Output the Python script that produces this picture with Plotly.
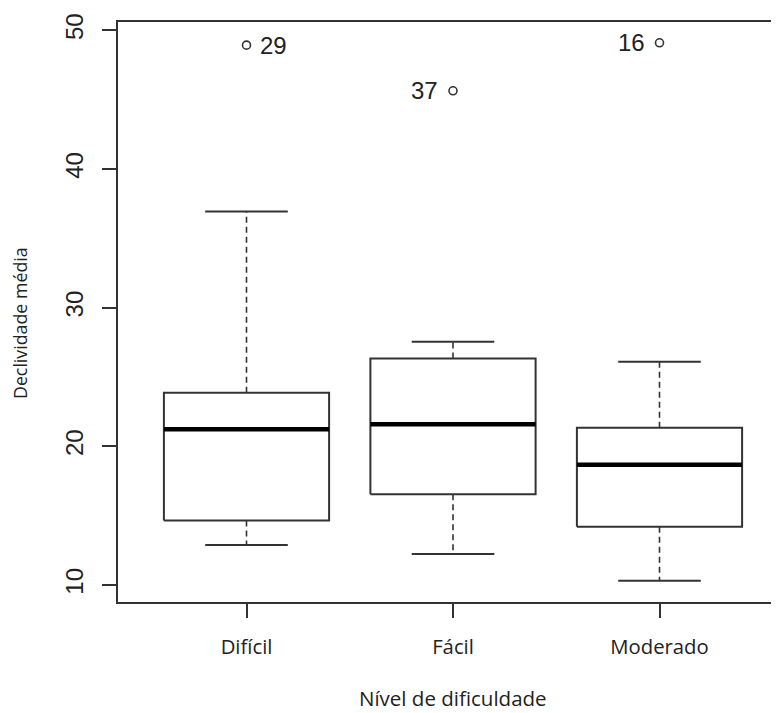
import plotly.graph_objects as go

# ---- data ----
categories = ["Difícil", "Fácil", "Moderado"]
lower_whisker = [12.88, 12.24, 10.31]
q1 = [14.64, 16.54, 14.20]
median = [21.23, 21.59, 18.67]
q3 = [23.86, 26.34, 21.34]
upper_whisker = [36.93, 27.54, 26.10]
outlier_values = [48.93, 45.64, 49.10]
outlier_labels = ["29", "37", "16"]
outlier_label_side = ["right", "left", "left"]
y_tick_values = [10, 20, 30, 40, 50]

# ---- styling constants ----
BOX_HALF = 0.4
CAP_HALF = 0.2
LINE_COL = "#333333"
TEXT_COL = "#222222"
LABEL_FONT = "Open Sans"
NUM_FONT = "Liberation Sans, Arial"

positions = list(range(1, len(categories) + 1))

box_x, box_y = [], []
med_x, med_y = [], []
wh_x, wh_y = [], []
cap_x, cap_y = [], []
for p, lo, a, m, b, hi in zip(positions, lower_whisker, q1, median, q3, upper_whisker):
    box_x += [p - BOX_HALF, p + BOX_HALF, p + BOX_HALF, p - BOX_HALF, p - BOX_HALF, None]
    box_y += [a, a, b, b, a, None]
    med_x += [p - BOX_HALF, p + BOX_HALF, None]
    med_y += [m, m, None]
    wh_x += [p, p, None, p, p, None]
    wh_y += [b, hi, None, a, lo, None]
    cap_x += [p - CAP_HALF, p + CAP_HALF, None, p - CAP_HALF, p + CAP_HALF, None]
    cap_y += [hi, hi, None, lo, lo, None]

fig = go.Figure()
fig.add_trace(go.Scatter(x=wh_x, y=wh_y, mode="lines",
                         line=dict(color=LINE_COL, width=1.6, dash="6px,4px"),
                         hoverinfo="skip", showlegend=False))
fig.add_trace(go.Scatter(x=cap_x, y=cap_y, mode="lines",
                         line=dict(color=LINE_COL, width=2),
                         hoverinfo="skip", showlegend=False))
fig.add_trace(go.Scatter(x=box_x, y=box_y, mode="lines", fill="toself",
                         fillcolor="white",
                         line=dict(color=LINE_COL, width=2),
                         hoverinfo="skip", showlegend=False))
fig.add_trace(go.Scatter(x=med_x, y=med_y, mode="lines",
                         line=dict(color="black", width=4.5),
                         hoverinfo="skip", showlegend=False))
fig.add_trace(go.Scatter(x=positions, y=outlier_values, mode="markers",
                         marker=dict(symbol="circle-open", size=8, color=LINE_COL,
                                     line=dict(color=LINE_COL, width=1.6)),
                         hoverinfo="skip", showlegend=False))

annotations = []
for p, v, lab, side in zip(positions, outlier_values, outlier_labels, outlier_label_side):
    annotations.append(dict(
        x=p, y=v, xref="x", yref="y", text=lab, showarrow=False,
        xanchor="left" if side == "right" else "right",
        xshift=11 if side == "right" else -13,
        font=dict(family=NUM_FONT, size=24, color=TEXT_COL)))

# axis titles
annotations.append(dict(
    x=2.0, y=0, xref="x", yref="paper", text="Nível de dificuldade",
    showarrow=False, xanchor="center", yanchor="bottom", yshift=-111,
    borderpad=0,
    font=dict(family=LABEL_FONT, size=20.5, color=TEXT_COL)))
annotations.append(dict(
    x=0, y=0.481, xref="paper", yref="paper", text="Declividade média",
    showarrow=False, xanchor="center", yanchor="middle", xshift=-98,
    textangle=-90,
    font=dict(family=LABEL_FONT, size=17.8, color=TEXT_COL)))

# the page body has an 8px margin, so the figure is 8px smaller and margins shifted
fig.update_layout(
    width=771, height=705, autosize=False,
    margin=dict(l=110, r=0, t=14, b=111, pad=0),
    paper_bgcolor="white", plot_bgcolor="white",
    annotations=annotations,
    xaxis=dict(
        range=[0.3777, 3.5787], tickvals=positions, ticktext=categories,
        ticks="outside", ticklen=14, tickwidth=1.5, tickcolor=LINE_COL,
        showline=True, linecolor=LINE_COL, linewidth=2, mirror=True,
        showgrid=False, zeroline=False, ticklabelstandoff=12,
        tickfont=dict(family=LABEL_FONT, size=20.3, color=TEXT_COL)),
    yaxis=dict(
        range=[8.77, 50.6], tickvals=y_tick_values,
        ticks="outside", ticklen=14, tickwidth=1.5, tickcolor=LINE_COL,
        showline=True, linecolor=LINE_COL, linewidth=2, mirror=False,
        showgrid=False, zeroline=False, tickangle=-90, ticklabelstandoff=9,
        tickfont=dict(family=NUM_FONT, size=24, color=TEXT_COL)),
)

fig.write_html("out.html")
